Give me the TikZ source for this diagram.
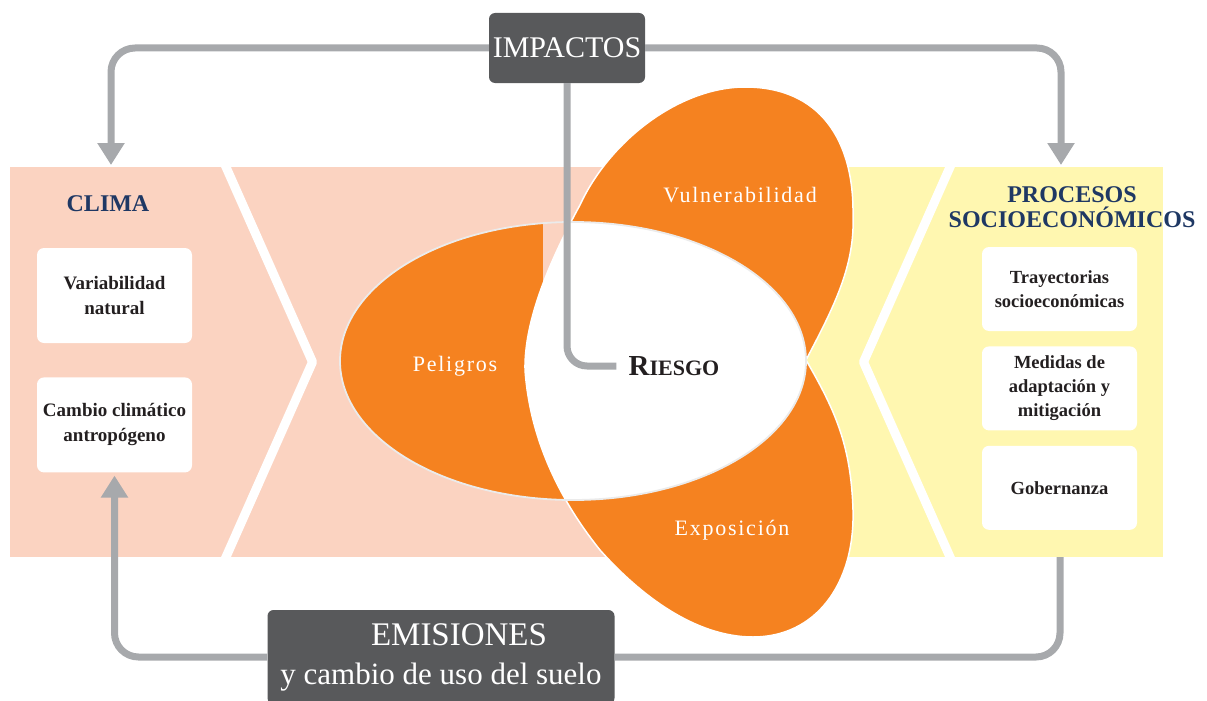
\documentclass[tikz,border=0pt]{standalone}
\usepackage{fontspec}
\setmainfont{Liberation Serif}
\usetikzlibrary{arrows.meta, positioning}
\definecolor{pinkbg}{HTML}{FBD3C1}
\definecolor{yellowbg}{HTML}{FFF7B0}
\definecolor{petalorange}{HTML}{F58220}
\definecolor{boxgray}{HTML}{58595B}
\definecolor{linegray}{HTML}{A7A9AC}
\definecolor{navy}{HTML}{1F3864}
\definecolor{inktext}{HTML}{231F20}
\tikzstyle{conn} = [draw=linegray, line width=7pt, rounded corners=24pt]
\tikzstyle{connarrow} = [conn, -{Triangle[width=26pt,length=22pt]}]
\tikzstyle{wbox} = [rectangle, rounded corners=7pt, fill=white, minimum width=155pt, align=center, text=inktext, font=\bfseries\fontsize{19}{25}\selectfont]
\tikzstyle{graybox} = [rectangle, rounded corners=6pt, fill=boxgray, text=white, inner sep=0pt, align=center]
\tikzstyle{petallabel} = [text=white, font=\fontsize{22}{26}\selectfont\addfontfeatures{LetterSpace=8}]
\tikzstyle{paneltitle} = [text=navy, align=center, font=\bfseries\fontsize{24}{25}\selectfont]
\newcommand{\petalpath}{(806,360) .. controls (835,305) and (855,265) .. (853,215)
  .. controls (854,140) and (820,87) .. (745,87)
  .. controls (680,87) and (610,140) .. (580,205)
  .. controls (550,260) and (524,320) .. (525,370)
  .. controls (530,440) and (560,500) .. (600,550)
  .. controls (640,595) and (695,637) .. (753,637)
  .. controls (815,637) and (855,585) .. (853,510)
  .. controls (851,445) and (835,410) .. (806,360) -- cycle}
\newcommand{\peligrosellipse}{(573,361) ellipse [x radius=233, y radius=139]}

\begin{document}
\begin{tikzpicture}[x=1pt, y=-1pt]
\useasboundingbox (0,0) rectangle (1207,701);

% Panels
\fill[pinkbg] (10,167) rectangle (605,557);
\fill[yellowbg] (800,167) rectangle (1163,557);
\draw[white, line width=9pt, line join=round] (222,158) -- (312.5,362) -- (222,566);
\draw[white, line width=9pt, line join=round] (954,158) -- (863.5,362) -- (954,566);

% Peligros
\fill[petalorange] \peligrosellipse;
\fill[pinkbg] (543,215) -- (578,215) -- (543,292) -- cycle;

% Vulnerabilidad and Exposicion
\fill[petalorange] \petalpath;
\begin{scope}
  \clip \petalpath;
  \fill[white] \peligrosellipse;
\end{scope}
\draw[white, line width=1.5pt] \petalpath;
\draw[white!92!black, line width=1.8pt] \peligrosellipse;

% Texts
\node[petallabel] (peligros) at (455,366) {Peligros};
\node[petallabel] (vulner) at (740,195) {Vulnerabilidad};
\node[petallabel] (exposic) at (732,530) {Exposición};
\node[text=inktext, inner sep=0pt, font=\bfseries] (riesgo) at (674,366) {\fontsize{29}{29}\selectfont R\fontsize{22}{22}\selectfont IESGO};

% Clima
\node[paneltitle] (clima) at (108,204) {CLIMA};
\node[wbox, minimum height=95pt] (variab) at (114.5,295.5) {Variabilidad\\natural};
\node[wbox, minimum height=95pt, below=34pt of variab] (cambio) {Cambio climático\\antropógeno};

% Procesos socioeconomicos
\node[paneltitle] (procesos) at (1072,207) {PROCESOS\\SOCIOECONÓMICOS};
\node[wbox, minimum height=84pt, font=\bfseries\fontsize{18.5}{24}\selectfont] (trayect) at (1059.5,289) {Trayectorias\\socioeconómicas};
\node[wbox, minimum height=84pt, font=\bfseries\fontsize{18.5}{24}\selectfont, below=15pt of trayect] (medidas) {Medidas de\\adaptación y\\mitigación};
\node[wbox, minimum height=84pt, font=\bfseries\fontsize{18.5}{24}\selectfont, below=15pt of medidas] (gobern) {Gobernanza};

% Impactos and emisiones
\node[graybox, minimum width=156pt, minimum height=70pt, font=\fontsize{30}{30}\selectfont] (impactos) at (567,48) {IMPACTOS};
\node[graybox, minimum width=347pt, minimum height=94pt, font=\fontsize{31}{39}\selectfont] (emisiones) at (441,657) {\fontsize{33}{39}\selectfont\hspace*{36pt}EMISIONES\\\fontsize{31}{39}\selectfont y cambio de uso del suelo};

\coordinate (climain) at (111,165);
\coordinate (procin) at (1061,165);
\coordinate (procout) at (1060,557);

% Connectors
\draw[connarrow] (impactos.west) -| (climain);
\draw[connarrow] (impactos.east) -| (procin);
\draw[conn, rounded corners=20pt, shorten >=12pt] (impactos.south) |- (riesgo.west);
\draw[connarrow, shorten >=3pt] (emisiones.west) -| (cambio.south);
\draw[conn] (emisiones.east) -| (procout);

\end{tikzpicture}
\end{document}
